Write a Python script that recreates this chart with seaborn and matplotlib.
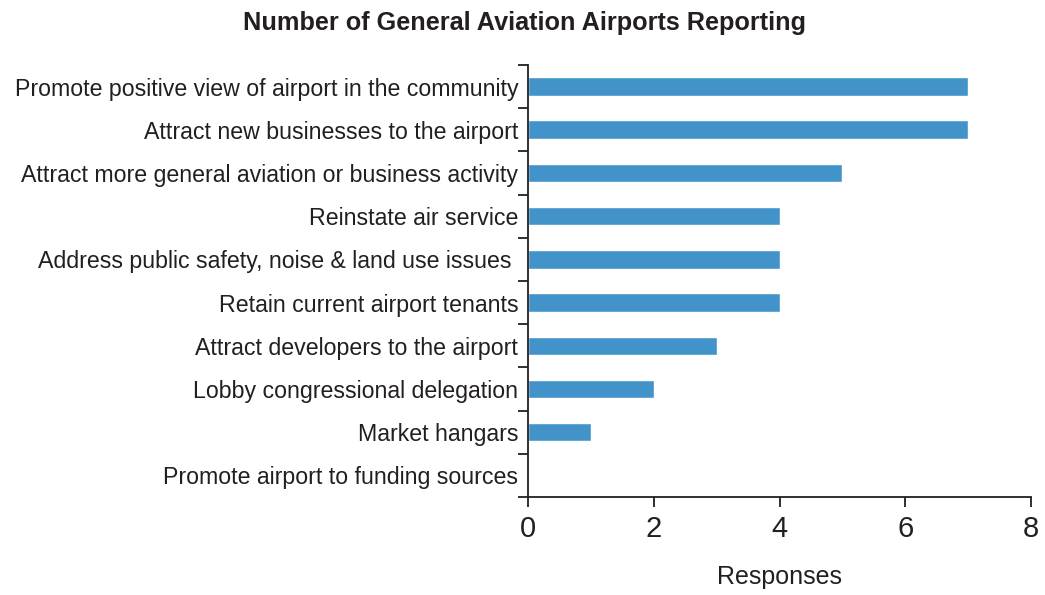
import matplotlib
matplotlib.use("Agg")
import matplotlib.pyplot as plt
import seaborn as sns
import pandas as pd
import numpy as np

categories = [
    "Promote positive view of airport in the community",
    "Attract new businesses to the airport",
    "Attract more general aviation or business activity",
    "Reinstate air service",
    "Address public safety, noise & land use issues ",
    "Retain current airport tenants",
    "Attract developers to the airport",
    "Lobby congressional delegation",
    "Market hangars",
    "Promote airport to funding sources",
]
responses = [7, 7, 5, 4, 4, 4, 3, 2, 1, 0]
x_ticks = [0, 2, 4, 6, 8]

sns.set_theme(style="ticks")
plt.rcParams['font.family'] = ['Liberation Sans', 'DejaVu Sans']

df = pd.DataFrame({"cat": categories, "val": responses})

fig = plt.figure(figsize=(10.45, 5.95), dpi=100)
ax = fig.add_axes([0.5053, 0.1647, 0.4813, 0.7261])
sns.barplot(data=df, y="cat", x="val", orient="h", color="#4393CB",
            saturation=1, width=0.43, ax=ax)

n = len(categories)
ax.set_ylim(n - 0.5, -0.5)
ax.set_xlim(0, 8)
ax.set_xticks(x_ticks)
ax.set_xticklabels([str(t) for t in x_ticks], fontsize=21, color="#231f20")
ax.set_yticks(np.arange(n))
ax.set_yticklabels(categories, fontsize=16.7, color="#231f20")
ax.tick_params(axis="y", length=0, pad=7)
ax.set_yticks(np.arange(-0.5, n, 1.0), minor=True)
ax.tick_params(axis="y", which="minor", length=7, width=1.3, color="#231f20", direction="out")
ax.tick_params(axis="x", length=7, width=1.3, color="#231f20", direction="out", pad=6)
sns.despine(ax=ax, top=True, right=True)
for s in ["left", "bottom"]:
    ax.spines[s].set_linewidth(1.3)
    ax.spines[s].set_color("#231f20")
ax.set_ylabel("")
ax.set_xlabel("Responses", fontsize=18, color="#231f20", labelpad=16)
fig.suptitle("Number of General Aviation Airports Reporting", fontsize=18.2,
             fontweight="bold", color="#231f20", x=0.502, y=0.981, va="top")
fig.savefig("out.png", dpi=100, facecolor="white")
